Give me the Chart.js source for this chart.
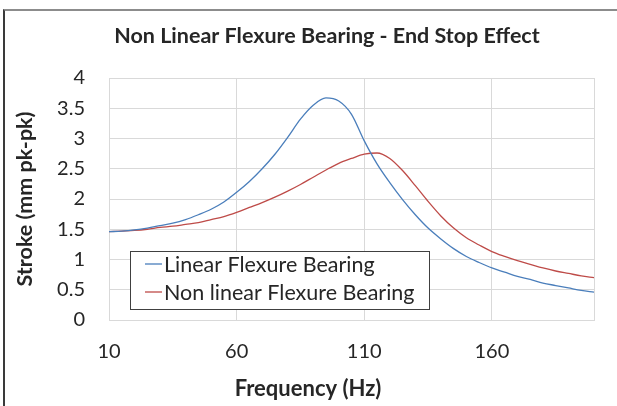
<!DOCTYPE html>
<html lang="en">
<head>
<meta charset="UTF-8">
<title>Non Linear Flexure Bearing - End Stop Effect</title>
<script src="https://cdn.jsdelivr.net/npm/chart.js"></script>
<style>
  html, body { margin: 0; padding: 0; background: #fff; }
  #frame { position: absolute; left: 3px; top: 9px; width: 614px; height: 397px;
           border-top: 2px solid #8c8c8c; border-left: 2px solid #3a3a3a; box-sizing: border-box; }
  #wrap { position: absolute; left: 0; top: 0; width: 617px; height: 406px; }
</style>
</head>
<body>
<div id="frame"></div>
<div id="wrap"><canvas id="strokeChart"></canvas></div>
<script>
// values, every 5 Hz
const frequencies = [10, 15, 20, 25, 30, 35, 40, 45, 50, 55, 60, 65, 70, 75, 80, 85, 90, 95, 100,
  105, 110, 115, 120, 125, 130, 135, 140, 145, 150, 155, 160, 165, 170, 175, 180, 185, 190, 195, 200];
const linearStroke = [1.46, 1.47, 1.49, 1.52, 1.56, 1.60, 1.66, 1.74, 1.83, 1.95, 2.11, 2.29, 2.50,
  2.74, 3.02, 3.32, 3.55, 3.67, 3.62, 3.40, 2.96, 2.58, 2.27, 1.99, 1.74, 1.52, 1.34, 1.18, 1.05,
  0.95, 0.86, 0.79, 0.72, 0.67, 0.61, 0.57, 0.53, 0.49, 0.46];
const nonLinearStroke = [1.46, 1.47, 1.48, 1.50, 1.53, 1.55, 1.58, 1.61, 1.66, 1.71, 1.78, 1.86, 1.94,
  2.03, 2.13, 2.24, 2.36, 2.48, 2.59, 2.67, 2.74, 2.76, 2.67, 2.47, 2.22, 1.96, 1.72, 1.52, 1.36,
  1.24, 1.13, 1.05, 0.98, 0.92, 0.86, 0.81, 0.77, 0.73, 0.70];
const xTickValues = [10, 60, 110, 160];
const seriesNames = ['Linear Flexure Bearing', 'Non linear Flexure Bearing'];
const chartTitle = 'Non Linear Flexure Bearing - End Stop Effect';
const xAxisTitle = 'Frequency (Hz)';
const yAxisTitle = 'Stroke (mm pk-pk)';

const FONT = 'Lato, "Open Sans", sans-serif';
const textColor = '#262626';

// chart title and x title are centred on the whole picture, not on the plot (Excel style)
const excelTitles = {
  id: 'excelTitles',
  afterDraw(chart) {
    const { ctx } = chart;
    ctx.save();
    ctx.fillStyle = textColor;
    ctx.textAlign = 'center';
    ctx.textBaseline = 'middle';
    ctx.font = 'bold 21.5px ' + FONT;
    ctx.fillText(chartTitle, 327, 36);
    ctx.font = 'bold 22px ' + FONT;
    ctx.fillText(xAxisTitle, 308, 389);
    ctx.restore();
  }
};

// legend with a box round it, sitting inside the plot (lower left)
const boxedLegend = {
  id: 'boxedLegend',
  afterDatasetsDraw(chart) {
    const { ctx, chartArea } = chart;
    const x = chartArea.left + 21, y = chartArea.bottom - 69, w = 299, h = 58;
    ctx.save();
    ctx.fillStyle = '#fff';
    ctx.fillRect(x, y, w, h);
    ctx.strokeStyle = '#404040';
    ctx.lineWidth = 1;
    ctx.strokeRect(x + 0.5, y + 0.5, w, h);
    ctx.font = '21.5px ' + FONT;
    ctx.textBaseline = 'middle';
    chart.data.datasets.forEach((ds, i) => {
      const cy = y + 13 + i * 28;
      ctx.strokeStyle = ds.borderColor;
      ctx.lineWidth = 1.3;
      ctx.beginPath();
      ctx.moveTo(x + 15, cy);
      ctx.lineTo(x + 32, cy);
      ctx.stroke();
      ctx.fillStyle = textColor;
      ctx.fillText(ds.label, x + 34, cy + 1);
    });
    ctx.restore();
  }
};

const ctx = document.getElementById('strokeChart').getContext('2d');
new Chart(ctx, {
  type: 'line',
  data: {
    datasets: [{
      label: seriesNames[0],
      data: frequencies.map((f, i) => ({ x: f, y: linearStroke[i] })),
      borderColor: '#4a7ebb',
      borderWidth: 1.3,
      pointRadius: 0,
      cubicInterpolationMode: 'monotone'
    }, {
      label: seriesNames[1],
      data: frequencies.map((f, i) => ({ x: f, y: nonLinearStroke[i] })),
      borderColor: '#be4b48',
      borderWidth: 1.3,
      pointRadius: 0,
      cubicInterpolationMode: 'monotone'
    }]
  },
  options: {
    responsive: true,
    maintainAspectRatio: false,
    animation: false,
    layout: { padding: { left: 0, right: 23, top: 78, bottom: 0 } },
    plugins: {
      legend: { display: false },
      tooltip: { enabled: false },
      title: { display: false }
    },
    scales: {
      x: {
        type: 'linear',
        min: 10,
        max: 200,
        afterBuildTicks: scale => {
          scale.ticks = xTickValues.concat([200]).map(v => ({ value: v }));
        },
        afterFit: scale => { scale.height = 86; },
        grid: { color: '#d9d9d9', drawTicks: false },
        border: { color: '#d9d9d9' },
        ticks: {
          padding: 20,
          color: textColor,
          font: { family: FONT, size: 20 },
          maxRotation: 0,
          autoSkip: false,
          callback: v => (xTickValues.includes(v) ? String(v) : '')
        },
        title: { display: false }
      },
      y: {
        min: 0,
        max: 4,
        afterFit: scale => { scale.width = 109; },
        grid: { color: '#d9d9d9', drawTicks: false },
        border: { color: '#d9d9d9' },
        ticks: {
          stepSize: 0.5,
          padding: 24,
          color: textColor,
          font: { family: FONT, size: 20 },
          callback: v => String(v)
        },
        title: {
          display: true,
          text: yAxisTitle,
          color: textColor,
          font: { family: FONT, size: 21.5, weight: 'bold' },
          padding: { top: 12, bottom: 0 }
        }
      }
    }
  },
  plugins: [boxedLegend, excelTitles]
});
</script>
</body>
</html>
